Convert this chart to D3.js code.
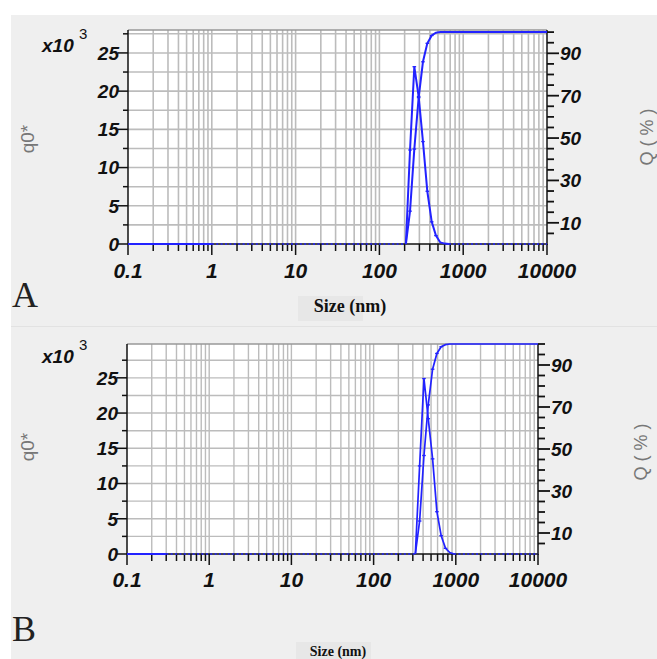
<!DOCTYPE html>
<html>
<head>
<meta charset="utf-8">
<script src="https://cdn.jsdelivr.net/npm/d3@7"></script>
<style>
  body { margin: 0; background: #fff; }
  svg { display: block; }
</style>
</head>
<body>
<script>
// size bins (nm) and values
const sizesA = [207, 232, 261, 294, 331, 373, 421, 473, 533, 601, 677];
const q0A = [0, 12.3, 23.2, 19.3, 13.4, 6.9, 2.9, 1.1, 0.2, 0.05, 0];
const cumA = [0, 15.5, 44.8, 69.1, 86.0, 94.7, 98.4, 99.7, 100, 100, 100];

const sizesB = [322, 363, 410, 462, 522, 589, 664, 750, 845, 953];
const q0B = [0, 12.5, 24.9, 19.2, 13.5, 6.0, 2.6, 0.8, 0.2, 0];
const cumB = [0, 15.7, 46.9, 71.0, 88.0, 95.5, 98.7, 99.7, 100, 100];

const xTicks = [0.1, 1, 10, 100, 1000, 10000];
const xTickLabels = ["0.1", "1", "10", "100", "1000", "10000"];
const leftTicks = [0, 5, 10, 15, 20, 25];
const rightTicks = [10, 30, 50, 70, 90];

const width = 657, height = 659;
const blue = "#2222ff";

const svg = d3.select("body").append("svg")
  .attr("width", width).attr("height", height);

svg.append("rect").attr("width", width).attr("height", height).attr("fill", "#fff");
svg.append("rect").attr("x", 11).attr("y", 15).attr("width", width - 11).attr("height", height - 15)
  .attr("fill", "#efefef");
svg.append("line").attr("x1", 11).attr("x2", width).attr("y1", 326.5).attr("y2", 326.5)
  .attr("stroke", "#e2e2e2");

const tickFont = "'Liberation Sans', Arial, sans-serif";

function drawPanel(p) {
  const x = d3.scaleLog().domain([0.1, 10000]).range([p.left, p.right]);
  const yL = d3.scaleLinear().domain([0, p.yMax]).range([p.bottom, p.top]);
  const yR = d3.scaleLinear().domain([0, p.rMax]).range([p.bottom, p.top]);
  const g = svg.append("g");

  g.append("rect").attr("x", p.left).attr("y", p.top)
    .attr("width", p.right - p.left).attr("height", p.bottom - p.top).attr("fill", "#fff");

  // grid
  const logTicks = x.ticks().filter(d => d > 0.1 && d < 10000);
  g.append("g").selectAll("line").data(logTicks).join("line")
    .attr("x1", d => x(d)).attr("x2", d => x(d))
    .attr("y1", p.top).attr("y2", p.bottom)
    .attr("stroke", "#bcbcbc").attr("stroke-width", p.gridW);
  const hGrid = d3.range(2.5, p.yMax, 2.5);
  g.append("g").selectAll("line").data(hGrid).join("line")
    .attr("x1", p.left).attr("x2", p.right)
    .attr("y1", d => yL(d)).attr("y2", d => yL(d))
    .attr("stroke", "#bcbcbc").attr("stroke-width", p.gridW);
  g.append("line").attr("x1", p.left).attr("x2", p.right)
    .attr("y1", p.top).attr("y2", p.top).attr("stroke", "#999").attr("stroke-width", 1.5);

  // axes lines
  g.append("line").attr("x1", p.left).attr("x2", p.left).attr("y1", p.top).attr("y2", p.bottom)
    .attr("stroke", "#111").attr("stroke-width", 1.5);
  g.append("line").attr("x1", p.right).attr("x2", p.right).attr("y1", p.top).attr("y2", p.bottom + 1)
    .attr("stroke", "#111").attr("stroke-width", 1.5);
  g.append("line").attr("x1", p.left).attr("x2", p.right).attr("y1", p.bottom).attr("y2", p.bottom)
    .attr("stroke", "#111").attr("stroke-width", 1.5);

  // x ticks
  const allX = x.ticks();
  g.append("g").selectAll("line").data(allX).join("line")
    .attr("x1", d => x(d)).attr("x2", d => x(d))
    .attr("y1", p.bottom).attr("y2", d => p.bottom + (xTicks.includes(d) ? 11 : 7))
    .attr("stroke", "#111").attr("stroke-width", 1.5);
  g.append("g").selectAll("text").data(xTicks).join("text")
    .attr("x", d => x(d)).attr("y", p.bottom + p.xLabelDy)
    .attr("text-anchor", "middle")
    .style("font", `italic bold 21px ${tickFont}`).attr("fill", "#111")
    .text((d, i) => xTickLabels[i]);

  // left ticks
  const leftMinor = d3.range(2.5, p.yMax, 5);
  g.append("g").selectAll("line").data(leftTicks).join("line")
    .attr("x1", p.left - 10).attr("x2", p.left).attr("y1", d => yL(d)).attr("y2", d => yL(d))
    .attr("stroke", "#111").attr("stroke-width", 1.5);
  g.append("g").selectAll("line").data(leftMinor).join("line")
    .attr("x1", p.left - 5).attr("x2", p.left).attr("y1", d => yL(d)).attr("y2", d => yL(d))
    .attr("stroke", "#111").attr("stroke-width", 1.5);
  g.append("g").selectAll("text").data(leftTicks).join("text")
    .attr("x", p.left - 9).attr("y", d => yL(d)).attr("dy", "0.36em")
    .attr("text-anchor", "end")
    .style("font", `italic bold 19px ${tickFont}`).attr("fill", "#111")
    .text(d => d);

  // right ticks
  const rightAll = d3.range(5, 101, 5);
  g.append("g").selectAll("line").data(rightAll).join("line")
    .attr("x1", p.right).attr("x2", d => p.right + (rightTicks.includes(d) ? 12 : 7))
    .attr("y1", d => yR(d)).attr("y2", d => yR(d))
    .attr("stroke", "#111").attr("stroke-width", 1.8);
  g.append("g").selectAll("text").data(rightTicks).join("text")
    .attr("x", p.right + 13).attr("y", d => yR(d)).attr("dy", "0.36em")
    .style("font", `italic bold 19px ${tickFont}`).attr("fill", "#111")
    .text(d => d);

  // x10^3
  g.append("text").attr("x", 42).attr("y", p.top + p.expDy)
    .style("font", `italic bold 19px ${tickFont}`).attr("fill", "#111").text("x10");
  g.append("text").attr("x", 79).attr("y", p.top + p.expDy - 13)
    .style("font", `15px ${tickFont}`).attr("fill", "#111").text("3");

  // axis titles
  g.append("text").attr("transform", `translate(${p.qX},${p.qY}) rotate(-90)`)
    .attr("text-anchor", "middle").attr("dy", "0.35em")
    .style("font", `19px ${tickFont}`).attr("fill", "#777").text("q0*");
  g.append("text").attr("transform", `translate(${p.QX},${p.QY}) rotate(-90)`)
    .attr("text-anchor", "middle").attr("dy", "0.35em")
    .style("font", `18px ${tickFont}`).attr("fill", "#777").text("Q ( % )");

  g.append("rect").attr("x", p.boxX).attr("y", p.boxY).attr("width", p.boxW).attr("height", p.boxH)
    .attr("fill", "#e7e7e7");
  g.append("text").attr("x", p.sizeX).attr("y", p.sizeY).attr("text-anchor", "middle")
    .style("font", `bold ${p.sizeFs}px 'Liberation Serif', 'Times New Roman', serif`)
    .attr("fill", "#111").text("Size (nm)");
  g.append("text").attr("x", 12).attr("y", p.letterY)
    .style("font", `36px 'Liberation Serif', 'Times New Roman', serif`)
    .attr("fill", "#222").text(p.letter);

  // baseline: solid start, then dotted zero markers
  const first = p.sizes[0], last = p.sizes[p.sizes.length - 1];
  g.append("line").attr("x1", x(0.1)).attr("x2", x(p.solidEnd))
    .attr("y1", yL(0)).attr("y2", yL(0)).attr("stroke", blue).attr("stroke-width", 2);
  [[p.solidEnd, first], [last, 10000]].forEach(([a, b]) => {
    g.append("line").attr("x1", x(a)).attr("x2", x(b))
      .attr("y1", yL(0)).attr("y2", yL(0)).attr("stroke", blue)
      .attr("stroke-width", 1.6).attr("stroke-dasharray", "2,2.4");
  });

  // curves
  const q0pts = p.sizes.map((s, i) => [s, p.q0[i]]);
  const cumPts = p.sizes.map((s, i) => [s, p.cum[i]]).concat([[10000, p.cum[p.cum.length - 1]]]);
  g.append("path").datum(q0pts)
    .attr("d", d3.line().x(d => x(d[0])).y(d => yL(d[1])))
    .attr("fill", "none").attr("stroke", blue).attr("stroke-width", p.lineW);
  g.append("path").datum(cumPts)
    .attr("d", d3.line().x(d => x(d[0])).y(d => yR(d[1])))
    .attr("fill", "none").attr("stroke", blue).attr("stroke-width", p.lineW);

  // small dash markers at the bins
  const marks = q0pts.filter(d => d[1] > 0.5).map(d => [x(d[0]), yL(d[1])])
    .concat(cumPts.slice(1, -1).filter(d => d[1] < 99.5).map(d => [x(d[0]), yR(d[1])]));
  g.append("g").selectAll("line").data(marks).join("line")
    .attr("x1", d => d[0] - 1.8).attr("x2", d => d[0] + 1.8)
    .attr("y1", d => d[1]).attr("y2", d => d[1])
    .attr("stroke", blue).attr("stroke-width", 1.3);
}

drawPanel({
  left: 128, right: 547, top: 30, bottom: 244, yMax: 28, rMax: 101,
  sizes: sizesA, q0: q0A, cum: cumA, solidEnd: 1,
  gridW: 1.6, lineW: 2, xLabelDy: 34, expDy: 22,
  qX: 27, qY: 139, QX: 647, QY: 137,
  boxX: 298, boxY: 296, boxW: 65, boxH: 25,
  sizeX: 350, sizeY: 312, sizeFs: 18, letter: "A", letterY: 307
});

drawPanel({
  left: 127, right: 538, top: 344, bottom: 554, yMax: 29.8, rMax: 100,
  sizes: sizesB, q0: q0B, cum: cumB, solidEnd: 0.3,
  gridW: 1.4, lineW: 1.7, xLabelDy: 33, expDy: 19,
  qX: 27, qY: 447, QX: 641, QY: 452,
  boxX: 296, boxY: 642, boxW: 75, boxH: 17,
  sizeX: 338, sizeY: 656, sizeFs: 14, letter: "B", letterY: 641
});
</script>
</body>
</html>
